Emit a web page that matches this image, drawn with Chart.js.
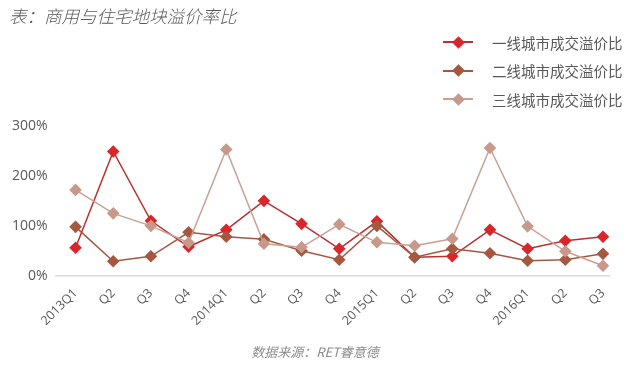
<!DOCTYPE html>
<html>
<head>
<meta charset="utf-8">
<script src="https://cdn.jsdelivr.net/npm/chart.js@4"></script>
<style>
  body { margin: 0; background: #fff; }
  #wrap { position: relative; width: 630px; height: 376px; font-family: "Noto Sans CJK SC", "Noto Sans", sans-serif; }
  #chart { position: absolute; left: 0; top: 0; }
  .title { position: absolute; left: 9px; top: 3px; font-size: 17.5px; font-style: italic; color: #595959; font-weight: 300; }
  .source { position: absolute; left: 0; width: 630px; top: 342px; text-align: center; font-size: 13px; font-style: italic; color: #8c8c8c; }
  .legend { position: absolute; left: 443px; top: 28px; }
  .legend .row { height: 28.5px; display: flex; align-items: center; font-size: 14.5px; color: #595959; }
  .legend .key { position: relative; width: 30px; height: 12px; margin-right: 19px; }
  .legend .key .ln { position: absolute; left: 0; top: 5px; width: 30px; height: 2px; }
  .legend .key .dm { position: absolute; left: 10.5px; top: 1.5px; width: 9px; height: 9px; transform: rotate(45deg); }
</style>
</head>
<body>
<div id="wrap">
  <canvas id="chart" width="630" height="376"></canvas>
  <div class="title">表：商用与住宅地块溢价率比</div>
  <div class="legend" id="legend"></div>
  <div class="source">数据来源：RET睿意德</div>
</div>
<script>
const quarters = ["2013Q1", "Q2", "Q3", "Q4", "2014Q1", "Q2", "Q3", "Q4", "2015Q1", "Q2", "Q3", "Q4", "2016Q1", "Q2", "Q3"];
const tier1 = [56, 249, 110, 58, 92, 150, 104, 54, 109, 37, 39, 92, 54, 70, 78];
const tier2 = [98, 29, 39, 87, 78, 73, 50, 32, 100, 37, 54, 45, 30, 32, 44];
const tier3 = [172, 125, 100, 66, 253, 64, 57, 103, 67, 60, 74, 256, 99, 49, 20];
const seriesNames = ["一线城市成交溢价比", "二线城市成交溢价比", "三线城市成交溢价比"];
const yTicks = [0, 100, 200, 300];

const lineColors = ["#b8302f", "#a5583f", "#c8a094"];
const markColors = ["#d9262b", "#a5583f", "#c8998a"];

// legend built by hand so it can sit vertically at top right
const legend = document.getElementById("legend");
seriesNames.forEach((name, i) => {
  const row = document.createElement("div");
  row.className = "row";
  row.innerHTML = `<div class="key"><div class="ln" style="background:${lineColors[i]}"></div>` +
    `<div class="dm" style="background:${markColors[i]}"></div></div>${name}`;
  legend.appendChild(row);
});

function toPoints(arr) {
  return arr.map((v, i) => ({ x: i, y: v }));
}

const ds = [tier1, tier2, tier3].map((arr, i) => ({
  label: seriesNames[i],
  data: toPoints(arr),
  borderColor: lineColors[i],
  backgroundColor: markColors[i],
  borderWidth: 1.5,
  pointStyle: "rectRot",
  pointRadius: 6.3,
  pointBorderWidth: 0,
  pointBackgroundColor: markColors[i],
  tension: 0
})).reverse();

new Chart(document.getElementById("chart").getContext("2d"), {
  type: "line",
  data: { datasets: ds },
  options: {
    responsive: false,
    animation: false,
    layout: { padding: { top: 126, left: 4, right: 21, bottom: 37.5 } },
    plugins: { legend: { display: false }, tooltip: { enabled: false } },
    scales: {
      x: {
        type: "linear",
        min: -0.53,
        max: 14.16,
        afterBuildTicks: (axis) => { axis.ticks = quarters.map((q, i) => ({ value: i })); },
        ticks: {
          autoSkip: false,
          maxRotation: 45,
          minRotation: 45,
          padding: 10,
          color: "#595959",
          font: { family: "'Open Sans', 'Noto Sans'", size: 12.5 },
          callback: (v) => quarters[v]
        },
        grid: { display: false, drawTicks: false },
        border: { color: "#d9d9d9", width: 1.5 }
      },
      y: {
        min: 0,
        max: 300,
        afterBuildTicks: (axis) => { axis.ticks = yTicks.map(v => ({ value: v })); },
        ticks: {
          color: "#595959",
          padding: 8,
          font: { family: "'Open Sans', 'Noto Sans'", size: 14 },
          callback: (v) => v + "%"
        },
        grid: { display: false, drawTicks: false },
        border: { display: false }
      }
    }
  }
});
</script>
</body>
</html>
